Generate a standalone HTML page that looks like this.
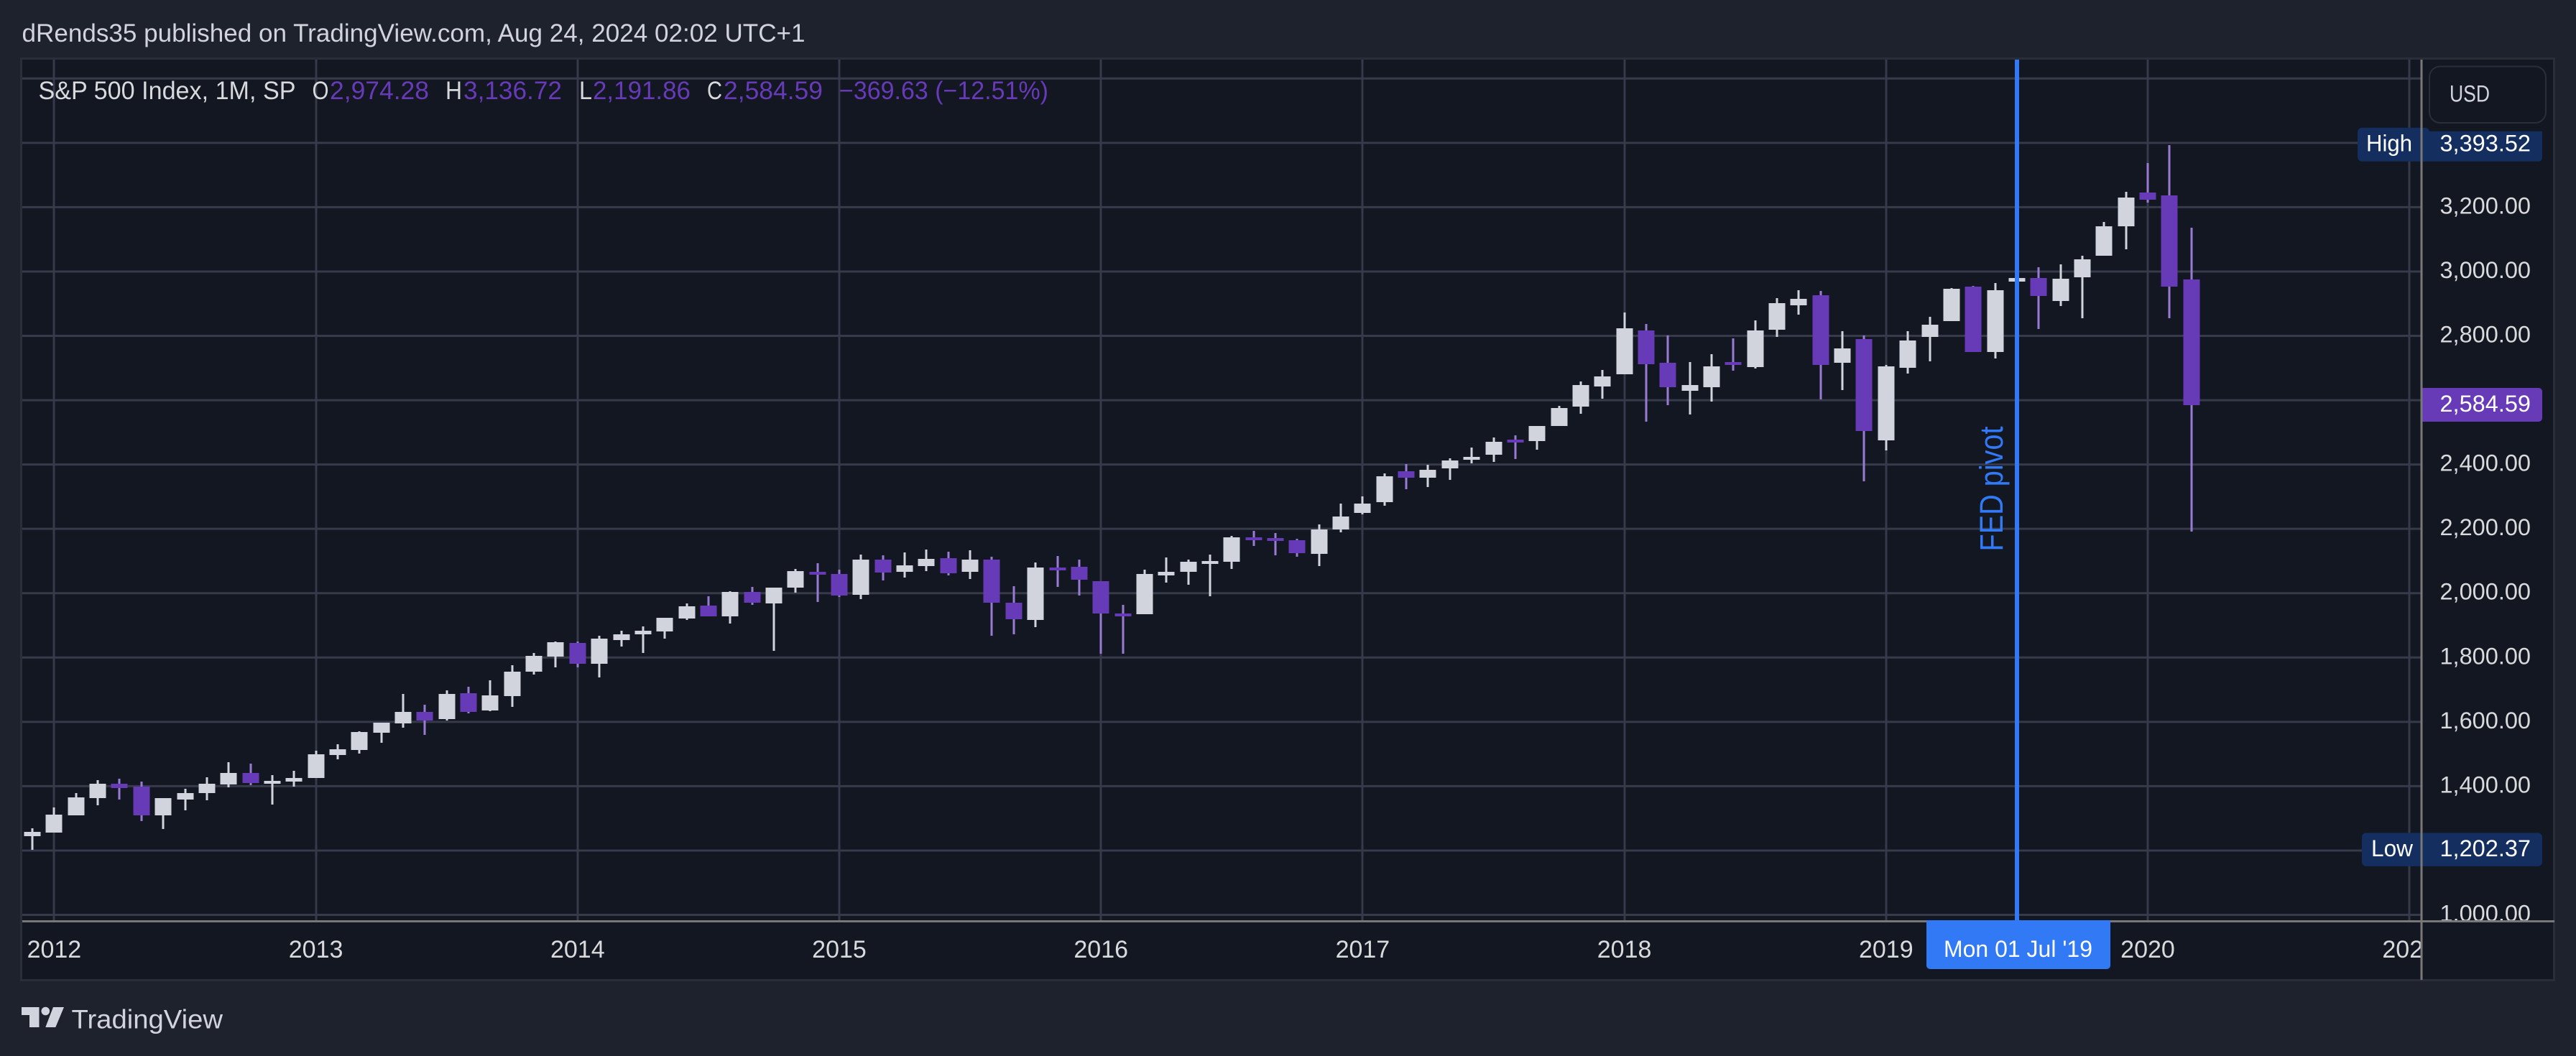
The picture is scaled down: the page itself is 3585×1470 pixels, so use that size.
<!DOCTYPE html>
<html lang="en">
<head>
<meta charset="utf-8">
<title>S&amp;P 500 Index monthly chart</title>
<style>
html,body{margin:0;padding:0;background:#1e222d;width:3585px;height:1470px;overflow:hidden}
svg{display:block;position:absolute;left:0;top:0}
text{font-family:"Liberation Sans",Arial,sans-serif}
</style>
</head>
<body>
<svg id="chart" xmlns="http://www.w3.org/2000/svg" width="3585" height="1470" viewBox="0 0 3585 1470">
  <defs>
    <clipPath id="time-clip"><rect x="30" y="1284" width="3340" height="80"/></clipPath>
    <clipPath id="price-clip"><rect x="3371" y="82" width="184" height="1199"/></clipPath>
    <clipPath id="pane-clip"><rect x="31" y="83" width="3339" height="1198"/></clipPath>
  </defs>
  <rect x="0" y="0" width="3585" height="1470" fill="#1e222d"/>
  <text x="30.5" y="58" font-size="35" fill="#d1d4dc" textLength="1090" lengthAdjust="spacingAndGlyphs">dRends35 published on TradingView.com, Aug 24, 2024 02:02 UTC+1</text>
  <rect x="29.5" y="81.5" width="3525" height="1283" fill="#131722" stroke="#2a2e39" stroke-width="3"/>
  <g id="grid" clip-path="url(#pane-clip)"></g>
  <g id="candles" clip-path="url(#pane-clip)"></g>
  <g id="annotation"></g>
  <g font-size="35">
    <text x="53.5" y="138" fill="#d8d9dc" textLength="358" lengthAdjust="spacingAndGlyphs">S&amp;P 500 Index, 1M, SP</text>
    <text x="434.5" y="138" fill="#d8d9dc" textLength="23" lengthAdjust="spacingAndGlyphs">O</text>
    <text x="459" y="138" fill="#673ab7" textLength="138" lengthAdjust="spacingAndGlyphs">2,974.28</text>
    <text x="620" y="138" fill="#d8d9dc" textLength="23" lengthAdjust="spacingAndGlyphs">H</text>
    <text x="645" y="138" fill="#673ab7" textLength="137" lengthAdjust="spacingAndGlyphs">3,136.72</text>
    <text x="806" y="138" fill="#d8d9dc" textLength="18" lengthAdjust="spacingAndGlyphs">L</text>
    <text x="825" y="138" fill="#673ab7" textLength="136" lengthAdjust="spacingAndGlyphs">2,191.86</text>
    <text x="984" y="138" fill="#d8d9dc" textLength="21" lengthAdjust="spacingAndGlyphs">C</text>
    <text x="1007" y="138" fill="#673ab7" textLength="138" lengthAdjust="spacingAndGlyphs">2,584.59</text>
    <text x="1168" y="138" fill="#673ab7" textLength="291" lengthAdjust="spacingAndGlyphs">−369.63 (−12.51%)</text>
  </g>
  <g id="time-axis"></g>
  <g id="price-axis"></g>
  <g>
    <rect x="3381" y="92.5" width="162" height="78.5" rx="15" fill="#131722" stroke="#2a2e39" stroke-width="2"/>
    <text x="3409" y="141.5" font-size="32" fill="#d1d4dc" textLength="56" lengthAdjust="spacingAndGlyphs">USD</text>
  </g>
  <g fill="#d1d4dc">
    <polygon points="30,1402 54.5,1402 54.5,1430 41,1430 41,1413 30,1413"/>
    <circle cx="63.3" cy="1407.5" r="5.8"/>
    <polygon points="74,1402 89,1402 77.3,1430 63.3,1430"/>
    <text x="99.5" y="1431.5" font-size="37" textLength="210.5" lengthAdjust="spacingAndGlyphs">TradingView</text>
  </g>
</svg>
<script>
const months = ["2011-12","2012-01","2012-02","2012-03","2012-04","2012-05","2012-06","2012-07","2012-08","2012-09","2012-10","2012-11","2012-12",
"2013-01","2013-02","2013-03","2013-04","2013-05","2013-06","2013-07","2013-08","2013-09","2013-10","2013-11","2013-12",
"2014-01","2014-02","2014-03","2014-04","2014-05","2014-06","2014-07","2014-08","2014-09","2014-10","2014-11","2014-12",
"2015-01","2015-02","2015-03","2015-04","2015-05","2015-06","2015-07","2015-08","2015-09","2015-10","2015-11","2015-12",
"2016-01","2016-02","2016-03","2016-04","2016-05","2016-06","2016-07","2016-08","2016-09","2016-10","2016-11","2016-12",
"2017-01","2017-02","2017-03","2017-04","2017-05","2017-06","2017-07","2017-08","2017-09","2017-10","2017-11","2017-12",
"2018-01","2018-02","2018-03","2018-04","2018-05","2018-06","2018-07","2018-08","2018-09","2018-10","2018-11","2018-12",
"2019-01","2019-02","2019-03","2019-04","2019-05","2019-06","2019-07","2019-08","2019-09","2019-10","2019-11","2019-12",
"2020-01","2020-02","2020-03"];
const opens = [1246.91,
1258.86,1312.45,1365.90,1408.47,1397.86,1309.87,1362.33,1379.32,1406.54,1440.90,1412.16,1416.18,
1426.19,1498.11,1514.68,1569.18,1597.55,1631.71,1609.78,1689.42,1635.95,1682.41,1758.70,1806.55,
1845.86,1782.68,1857.68,1873.96,1884.39,1923.87,1962.29,1929.80,2004.07,1971.44,2018.21,2065.78,
2058.90,1996.67,2105.23,2067.63,2087.38,2108.64,2067.00,2104.49,1970.09,1919.65,2080.76,2082.93,
2038.20,1936.94,1937.09,2056.62,2067.17,2093.94,2099.34,2173.15,2171.33,2164.33,2126.15,2200.17,
2251.57,2285.59,2380.13,2362.34,2388.50,2415.65,2431.39,2477.10,2474.42,2521.20,2583.21,2645.10,
2683.73,2816.45,2715.22,2633.45,2642.96,2718.70,2704.95,2821.17,2896.96,2926.29,2717.58,2790.50,
2476.96,2702.32,2798.22,2848.63,2952.33,2751.53,2971.41,2980.32,2909.01,2983.69,3050.72,3144.31,
3244.67,3235.66,2974.28];
const highs = [1269.37,
1333.47,1378.04,1419.15,1422.38,1415.32,1363.46,1391.74,1426.68,1474.51,1470.96,1434.27,1448.00,
1509.94,1530.94,1570.28,1597.57,1687.18,1654.19,1698.78,1709.67,1729.86,1775.22,1813.55,1849.44,
1850.84,1867.92,1883.97,1897.28,1924.03,1968.17,1991.39,2005.04,2019.26,2018.19,2075.76,2093.55,
2072.36,2119.59,2117.52,2125.92,2134.72,2129.87,2132.82,2112.66,2020.86,2094.32,2116.48,2104.27,
2038.20,1962.96,2072.21,2111.05,2103.48,2120.55,2177.09,2193.81,2187.87,2169.60,2214.10,2277.53,
2300.99,2371.54,2400.98,2398.16,2418.71,2453.82,2484.04,2490.87,2519.44,2582.98,2657.74,2694.97,
2872.87,2835.96,2801.90,2717.49,2742.24,2791.47,2848.03,2916.50,2940.91,2939.86,2815.15,2800.18,
2708.95,2813.49,2860.31,2949.52,2954.13,2964.15,3027.98,3013.59,3021.99,3050.10,3154.26,3247.93,
3337.77,3393.52,3136.72];
const lows = [1202.37,
1258.86,1312.45,1340.03,1357.38,1291.98,1266.74,1325.41,1354.65,1396.56,1403.28,1343.35,1398.11,
1426.19,1485.01,1501.48,1536.03,1581.28,1560.33,1604.57,1627.47,1633.41,1646.47,1746.20,1767.99,
1770.45,1737.92,1834.44,1814.36,1859.79,1915.98,1930.67,1904.78,1964.04,1820.66,2001.01,1972.56,
1988.12,1980.90,2039.69,2048.38,2067.93,2056.32,2044.02,1867.01,1871.91,1893.70,2019.39,1993.26,
1812.29,1810.10,1937.09,2033.80,2025.91,1991.68,2074.02,2147.58,2119.12,2114.72,2083.79,2187.44,
2245.13,2271.65,2322.25,2328.95,2352.72,2405.70,2407.70,2417.35,2446.55,2520.40,2557.45,2605.52,
2682.36,2532.69,2585.89,2553.80,2594.62,2691.99,2698.95,2796.34,2864.12,2603.54,2631.09,2346.58,
2443.96,2681.83,2722.27,2848.63,2750.52,2728.81,2952.22,2822.12,2891.85,2855.94,3050.72,3070.33,
3214.64,2855.84,2191.86];
const closes = [1257.60,
1312.41,1365.68,1408.47,1397.91,1310.33,1362.16,1379.32,1406.58,1440.67,1412.16,1416.18,1426.19,
1498.11,1514.68,1569.19,1597.57,1630.74,1606.28,1685.73,1632.97,1681.55,1756.54,1805.81,1848.36,
1782.59,1859.45,1872.34,1883.95,1923.57,1960.23,1930.67,2003.37,1972.29,2018.05,2067.56,2058.90,
1994.99,2104.50,2067.89,2085.51,2107.39,2063.11,2103.84,1972.18,1920.03,2079.36,2080.41,2043.94,
1940.24,1932.23,2059.74,2065.30,2096.95,2098.86,2173.60,2170.95,2168.27,2126.15,2198.81,2238.83,
2278.87,2363.64,2362.72,2384.20,2411.80,2423.41,2470.30,2471.65,2519.36,2575.26,2647.58,2673.61,
2823.81,2713.83,2640.87,2648.05,2705.27,2718.37,2816.29,2901.52,2913.98,2711.74,2760.17,2506.85,
2704.10,2784.49,2834.40,2945.83,2750.52,2941.76,2980.38,2926.46,2976.74,3037.56,3140.98,3230.78,
3225.52,2954.22,2584.59];
const gridPrices = [1000,1200,1400,1600,1800,2000,2200,2400,2600,2800,3000,3200,3400,3600];
const priceTickLabels = [1000,1400,1600,1800,2000,2200,2400,2800,3000,3200];
const yearTicks = [2012,2013,2014,2015,2016,2017,2018,2019,2020,2021];
const pivotMonth = "2019-07";
const pivotDateLabel = "Mon 01 Jul '19";

const SVGNS = "http://www.w3.org/2000/svg";
function xAt(ym){
  const parts = ym.split("-").map(Number);
  return 75.4 + 30.35 * ((parts[0] - 2012) * 12 + parts[1] - 1);
}
function yAt(price){
  return 1273.5 - (price - 1000) * 0.44777;
}
function fmt(v){
  return v.toLocaleString("en-US", {minimumFractionDigits: 2, maximumFractionDigits: 2});
}
function make(tag, parent, geometry, content){
  const el = document.createElementNS(SVGNS, tag);
  Object.keys(geometry).forEach(function(k){ el.setAttribute(k, geometry[k]); });
  if (content !== undefined) el.textContent = content;
  parent.appendChild(el);
  return el;
}

const gridGroup = document.getElementById("grid");
gridPrices.forEach(function(p){
  const line = make("line", gridGroup, {x1: 31, x2: 3370, y1: yAt(p), y2: yAt(p), stroke: "#363a4a", "stroke-width": 3});
  
  
});
yearTicks.forEach(function(y){
  const x = Math.round(xAt(y + "-01"));
  const line = make("line", gridGroup, {x1: x, x2: x, y1: 82, y2: 1282, stroke: "#363a4a", "stroke-width": 3});
  
  
});

const candleGroup = document.getElementById("candles");
months.forEach(function(m, i){
  const up = closes[i] >= opens[i];
  const cx = Math.round(xAt(m));
  const top = Math.round(yAt(Math.max(opens[i], closes[i])));
  const h = Math.max(4, Math.round(Math.abs(opens[i] - closes[i]) * 0.44777) + 1);
  const wick = make("rect", candleGroup, {
    x: cx - 1.5, width: 3,
    y: Math.round(yAt(highs[i])),
    height: Math.max(1, Math.round(yAt(lows[i]) - yAt(highs[i]))),
    fill: up ? "#d1d4dc" : "#9a7bd4", "shape-rendering": "crispEdges"
  });
  
  
  const body = make("rect", candleGroup, {
    x: cx - 11.5, width: 23, y: top, height: h,
    fill: up ? "#d1d4dc" : "#673ab7", "shape-rendering": "crispEdges"
  });
  
  
});

const annotationGroup = document.getElementById("annotation");
const pivotX = Math.round(xAt(pivotMonth));
const pivotLine = make("rect", annotationGroup, {x: pivotX - 3, y: 83, width: 6, height: 1199, fill: "#3179f5"});


const pivotText = make("text", annotationGroup, {
  x: 0, y: 0, transform: "translate(" + (pivotX - 20) + ",767.5) rotate(-90)",
  "font-size": 45, fill: "#3179f5", textLength: 174, lengthAdjust: "spacingAndGlyphs"
}, "FED pivot");



const timeAxis = document.getElementById("time-axis");
const timeLabels = make("g", timeAxis, {"clip-path": "url(#time-clip)"});


yearTicks.forEach(function(y){
  const t = make("text", timeLabels, {x: xAt(y + "-01"), y: 1333, "text-anchor": "middle", "font-size": 34, fill: "#d9dadc"}, String(y));
  
  
});
const timeAxisLine = make("rect", timeAxis, {x: 31, y: 1281, width: 3524, height: 3, fill: "#787878"});


const pivotBadge = make("path", timeAxis, {
  d: "M" + (pivotX - 126) + " 1281H" + (pivotX + 130) + "V1344a5 5 0 0 1 -5 5H" + (pivotX - 121) + "a5 5 0 0 1 -5 -5Z",
  fill: "#3179f5"
});


const pivotBadgeText = make("text", timeAxis, {
  x: pivotX - 102, y: 1332, "font-size": 32, fill: "#ffffff", textLength: 207, lengthAdjust: "spacingAndGlyphs"
}, pivotDateLabel);



const priceAxis = document.getElementById("price-axis");
const priceLabels = make("g", priceAxis, {"clip-path": "url(#price-clip)"});


priceTickLabels.forEach(function(p){
  const t = make("text", priceLabels, {x: 3522, y: yAt(p) + 9, "text-anchor": "end", "font-size": 32.5, fill: "#d9dadc"}, fmt(p));
  
  
});

const highValue = Math.max.apply(null, highs);
const lowValue = Math.min.apply(null, lows);
const lastClose = closes[closes.length - 1];
const lastOpen = opens[opens.length - 1];
const highY = yAt(highValue);
const lowY = yAt(lowValue);
const lastY = yAt(lastClose);

const highLeft = make("rect", priceAxis, {x: 3281, y: highY - 24, width: 100, height: 47, rx: 6, fill: "#132e5f"});


const highRight = make("path", priceAxis, {
  d: "M3371 " + (highY - 19) + "H3538V" + (highY + 18) + "a5 5 0 0 1 -5 5H3371Z", fill: "#132e5f"
});


const highWord = make("text", priceAxis, {x: 3293, y: highY + 8.5, "font-size": 32, fill: "#ffffff", textLength: 64, lengthAdjust: "spacingAndGlyphs"}, "High");


const highPrice = make("text", priceAxis, {x: 3522, y: highY + 8.5, "text-anchor": "end", "font-size": 32.5, fill: "#ffffff"}, fmt(highValue));



const lowRect = make("rect", priceAxis, {x: 3287, y: lowY - 23.5, width: 251, height: 46.5, rx: 6, fill: "#132e5f"});


const lowWord = make("text", priceAxis, {x: 3300, y: lowY + 9, "font-size": 32, fill: "#ffffff", textLength: 58, lengthAdjust: "spacingAndGlyphs"}, "Low");


const lowPrice = make("text", priceAxis, {x: 3522, y: lowY + 9, "text-anchor": "end", "font-size": 32.5, fill: "#ffffff"}, fmt(lowValue));



const lastRect = make("path", priceAxis, {
  d: "M3371 " + (lastY - 24) + "H3533a5 5 0 0 1 5 5V" + (lastY + 18) + "a5 5 0 0 1 -5 5H3371Z",
  fill: lastClose >= lastOpen ? "#d1d4dc" : "#673ab7"
});


const lastPrice = make("text", priceAxis, {x: 3522, y: lastY + 9, "text-anchor": "end", "font-size": 32.5, fill: "#ffffff"}, fmt(lastClose));



const priceAxisLine = make("rect", priceAxis, {x: 3368.5, y: 83, width: 3, height: 1281, fill: "#787878"});


</script>
</body>
</html>
